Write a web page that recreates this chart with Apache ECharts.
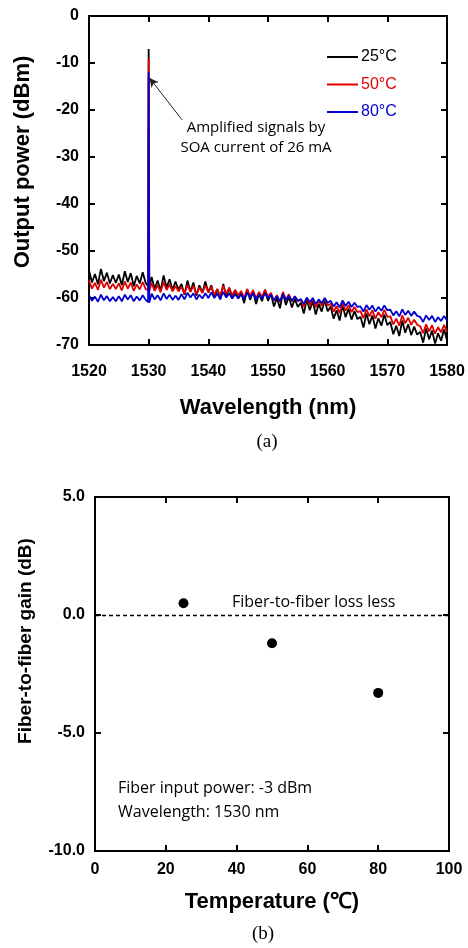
<!DOCTYPE html>
<html>
<head>
<meta charset="utf-8">
<script src="https://cdn.jsdelivr.net/npm/echarts@6/dist/echarts.min.js"></script>
<style>html,body{margin:0;padding:0;background:#fff;}#c{width:468px;height:948px;}</style>
</head>
<body>
<div id="c"></div>
<script>
// ---- Chart (a): spectra ----
const wavelength = [
  1520, 1520.5, 1521, 1521.5, 1522, 1522.5, 1523, 1523.5, 1524, 1524.5,
  1525, 1525.5, 1526, 1526.5, 1527, 1527.5, 1528, 1528.5, 1529, 1529.5,
  1529.9, 1530, 1530.1,
  1530.5, 1531, 1531.5, 1532, 1532.5, 1533, 1533.5, 1534, 1534.5, 1535,
  1535.5, 1536, 1536.5, 1537, 1537.5, 1538, 1538.5, 1539, 1539.5, 1540,
  1540.5, 1541, 1541.5, 1542, 1542.5, 1543, 1543.5, 1544, 1544.5, 1545,
  1545.5, 1546, 1546.5, 1547, 1547.5, 1548, 1548.5, 1549, 1549.5, 1550,
  1550.5, 1551, 1551.5, 1552, 1552.5, 1553, 1553.5, 1554, 1554.5, 1555,
  1555.5, 1556, 1556.5, 1557, 1557.5, 1558, 1558.5, 1559, 1559.5, 1560,
  1560.5, 1561, 1561.5, 1562, 1562.5, 1563, 1563.5, 1564, 1564.5, 1565,
  1565.5, 1566, 1566.5, 1567, 1567.5, 1568, 1568.5, 1569, 1569.5, 1570,
  1570.5, 1571, 1571.5, 1572, 1572.5, 1573, 1573.5, 1574, 1574.5, 1575,
  1575.5, 1576, 1576.5, 1577, 1577.5, 1578, 1578.5, 1579, 1579.5, 1580
];
const power25 = [
  -54.1, -56.7, -54.9, -57.1, -53.8, -56.4, -54.6, -56.9, -55.1, -56.8,
  -55.0, -57.3, -54.3, -56.6, -54.7, -57.5, -55.3, -56.9, -54.5, -56.8,
  -57.5, -7.0, -57.8,
  -55.5, -58.1, -56.3, -58.5, -55.2, -57.8, -56.0, -58.3, -56.5, -58.2,
  -57.0, -59.3, -56.3, -58.6, -56.7, -59.5, -57.3, -58.9, -56.5, -58.8,
  -57.3, -59.9, -58.1, -60.3, -57.0, -59.6, -57.8, -60.1, -58.3, -60.0,
  -58.8, -61.1, -58.1, -60.4, -58.5, -61.3, -59.1, -60.7, -58.3, -60.6,
  -59.2, -61.8, -60.0, -62.2, -58.9, -61.5, -59.7, -62.0, -60.2, -61.9,
  -61.0, -63.3, -60.3, -62.6, -60.7, -63.5, -61.3, -62.9, -60.5, -62.8,
  -61.8, -64.4, -62.6, -64.8, -61.5, -64.1, -62.3, -64.6, -62.8, -64.5,
  -64.0, -66.3, -63.3, -65.6, -63.7, -66.5, -64.3, -65.9, -63.5, -65.8,
  -65.1, -67.7, -65.9, -68.1, -64.8, -67.4, -65.6, -67.9, -66.1, -67.8,
  -67.2, -69.5, -66.5, -68.8, -66.9, -69.7, -67.5, -69.1, -66.7, -69.0
];
const power50 = [
  -56.3, -58.0, -56.8, -58.3, -56.1, -57.8, -56.6, -58.1, -57.0, -58.1,
  -56.9, -58.4, -56.5, -58.0, -56.7, -58.5, -57.1, -58.2, -56.6, -58.1,
  -58.3, -9.0, -58.5,
  -56.8, -58.5, -57.3, -58.8, -56.6, -58.3, -57.1, -58.6, -57.5, -58.6,
  -57.6, -59.1, -57.2, -58.7, -57.4, -59.2, -57.8, -58.9, -57.3, -58.8,
  -57.6, -59.3, -58.1, -59.6, -57.4, -59.1, -57.9, -59.4, -58.3, -59.4,
  -58.5, -60.0, -58.1, -59.6, -58.3, -60.1, -58.7, -59.8, -58.2, -59.7,
  -58.9, -60.6, -59.4, -60.9, -58.7, -60.4, -59.2, -60.7, -59.6, -60.7,
  -60.4, -61.9, -60.0, -61.5, -60.2, -62.0, -60.6, -61.7, -60.1, -61.6,
  -61.2, -62.9, -61.7, -63.2, -61.0, -62.7, -61.5, -63.0, -61.9, -63.0,
  -62.8, -64.3, -62.4, -63.9, -62.6, -64.4, -63.0, -64.1, -62.5, -64.0,
  -63.9, -65.6, -64.4, -65.9, -63.7, -65.4, -64.2, -65.7, -64.6, -65.7,
  -66.0, -67.5, -65.6, -67.1, -65.8, -67.6, -66.2, -67.3, -65.7, -67.2
];
const power80 = [
  -59.4, -60.6, -59.7, -60.8, -59.3, -60.5, -59.6, -60.7, -59.8, -60.7,
  -59.6, -60.7, -59.3, -60.3, -59.4, -60.7, -59.7, -60.5, -59.4, -60.4,
  -60.9, -12.0, -61.0,
  -59.1, -60.3, -59.4, -60.5, -59.0, -60.2, -59.3, -60.4, -59.5, -60.4,
  -59.2, -60.3, -58.9, -59.9, -59.0, -60.3, -59.3, -60.1, -59.0, -60.0,
  -58.8, -60.0, -59.1, -60.2, -58.7, -59.9, -59.0, -60.1, -59.2, -60.1,
  -59.2, -60.3, -58.9, -59.9, -59.0, -60.3, -59.3, -60.1, -59.0, -60.0,
  -59.3, -60.5, -59.6, -60.7, -59.2, -60.4, -59.5, -60.6, -59.7, -60.6,
  -60.2, -61.3, -59.9, -60.9, -60.0, -61.3, -60.3, -61.1, -60.0, -61.0,
  -60.6, -61.8, -60.9, -62.0, -60.5, -61.7, -60.8, -61.9, -61.0, -61.9,
  -61.8, -62.9, -61.5, -62.5, -61.6, -62.9, -61.9, -62.7, -61.6, -62.6,
  -62.5, -63.7, -62.8, -63.9, -62.4, -63.6, -62.7, -63.8, -62.9, -63.8,
  -64.0, -65.1, -63.7, -64.7, -63.8, -65.1, -64.1, -64.9, -63.8, -64.8
];
const seriesNamesA = ['25°C', '50°C', '80°C'];
const arrowFrom = [1535.6, -22.1];
const arrowTo = [1530.15, -13.2];

// ---- Chart (b): gain vs temperature ----
const temperature = [25, 50, 80];
const gain = [0.5, -1.2, -3.3];

const zip = (xs, ys) => xs.map((x, i) => [x, ys[i]]);
const BOLD = { fontFamily: 'Liberation Sans, Arial, sans-serif', fontWeight: 'bold', color: '#000' };
const axisLine = { show: true, onZero: false, lineStyle: { color: '#000', width: 2 } };
const tickIn = { show: true, inside: true, length: 6, lineStyle: { color: '#000', width: 2 } };
const colors = ['#000000', '#e00000', '#0000d0'];
const plain = v => String(v);

const chart = echarts.init(document.getElementById('c'), null, { renderer: 'canvas' });
chart.setOption({
  animation: false,
  backgroundColor: '#fff',
  grid: [
    { left: 89, top: 16, width: 358, height: 329 },
    { left: 95, top: 497, width: 354, height: 354 }
  ],
  legend: {
    orient: 'vertical', left: 322, top: 44, itemWidth: 31, itemHeight: 14, itemGap: 11.5,
    icon: 'path://M0,6h31v2h-31z',
    textStyle: { fontFamily: 'Liberation Sans, Arial, sans-serif', fontSize: 16, lineHeight: 16, padding: [0,0,0,-2] },
    data: seriesNamesA.map((n, i) => ({ name: n, itemStyle: { color: colors[i] }, textStyle: { color: colors[i] } }))
  },
  xAxis: [
    { gridIndex: 0, type: 'value', min: 1520, max: 1580, interval: 10,
      axisLine, axisTick: tickIn, splitLine: { show: false },
      axisLabel: Object.assign({ fontSize: 16, margin: 19, formatter: plain }, BOLD),
      name: 'Wavelength (nm)', nameLocation: 'middle', nameGap: 52,
      nameTextStyle: Object.assign({ fontSize: 22 }, BOLD) },
    { gridIndex: 0, type: 'value', position: 'top', min: 1520, max: 1580, interval: 10,
      axisLine, axisTick: tickIn, axisLabel: { show: false }, splitLine: { show: false } },
    { gridIndex: 1, type: 'value', min: 0, max: 100, interval: 20,
      axisLine, axisTick: tickIn, splitLine: { show: false },
      axisLabel: Object.assign({ fontSize: 16, margin: 11, formatter: plain }, BOLD),
      name: 'Temperature (℃)', nameLocation: 'middle', nameGap: 40,
      nameTextStyle: Object.assign({ fontSize: 22 }, BOLD) },
    { gridIndex: 1, type: 'value', position: 'top', min: 0, max: 100, interval: 20,
      axisLine, axisTick: tickIn, axisLabel: { show: false }, splitLine: { show: false } }
  ],
  yAxis: [
    { gridIndex: 0, type: 'value', min: -70, max: 0, interval: 10,
      axisLine, axisTick: tickIn, splitLine: { show: false },
      axisLabel: Object.assign({ fontSize: 16, margin: 10, formatter: plain }, BOLD),
      name: 'Output power (dBm)', nameLocation: 'middle', nameGap: 55,
      nameTextStyle: Object.assign({ fontSize: 22, padding: [0, 0, 0, 37] }, BOLD) },
    { gridIndex: 0, type: 'value', position: 'right', min: -70, max: 0, interval: 10,
      axisLine, axisTick: tickIn, axisLabel: { show: false }, splitLine: { show: false } },
    { gridIndex: 1, type: 'value', min: -10, max: 5, interval: 5,
      axisLine, axisTick: tickIn, splitLine: { show: false },
      axisLabel: Object.assign({ fontSize: 16, margin: 10, formatter: v => v.toFixed(1) }, BOLD),
      name: 'Fiber-to-fiber gain (dB)', nameLocation: 'middle', nameGap: 60,
      nameTextStyle: Object.assign({ fontSize: 19, padding: [0, 0, 0, 66] }, BOLD) },
    { gridIndex: 1, type: 'value', position: 'right', min: -10, max: 5, interval: 5,
      axisLine, axisTick: tickIn, axisLabel: { show: false }, splitLine: { show: false } }
  ],
  series: [
    { name: seriesNamesA[0], type: 'line', xAxisIndex: 0, yAxisIndex: 0, data: zip(wavelength, power25),
      symbol: 'none', lineStyle: { color: colors[0], width: 1.8 }, itemStyle: { color: colors[0] } },
    { name: seriesNamesA[1], type: 'line', xAxisIndex: 0, yAxisIndex: 0, data: zip(wavelength, power50),
      symbol: 'none', lineStyle: { color: colors[1], width: 1.8 }, itemStyle: { color: colors[1] } },
    { name: seriesNamesA[2], type: 'line', xAxisIndex: 0, yAxisIndex: 0, data: zip(wavelength, power80),
      symbol: 'none', lineStyle: { color: colors[2], width: 1.8 }, itemStyle: { color: colors[2] },
      markLine: { silent: true, symbol: ['none', 'arrow'], symbolSize: [7, 9], label: { show: false },
        lineStyle: { color: '#222', width: 1, type: 'solid' },
        data: [[{ coord: arrowFrom }, { coord: arrowTo }]] } },
    { name: 'gain', type: 'scatter', xAxisIndex: 2, yAxisIndex: 2, data: zip(temperature, gain),
      symbolSize: 10, itemStyle: { color: '#000', opacity: 1 },
      markLine: { silent: true, symbol: ['none', 'none'], label: { show: false },
        lineStyle: { color: '#000', width: 1.3, type: [4, 3] },
        data: [{ yAxis: 0 }] } }
  ],
  graphic: [
    { type: 'text', x: 256, y: 128, style: { text: 'Amplified signals by', textAlign: 'center', textVerticalAlign: 'middle', font: '15px "Open Sans", sans-serif', fill: '#000' } },
    { type: 'text', x: 256, y: 148, style: { text: 'SOA current of 26 mA', textAlign: 'center', textVerticalAlign: 'middle', font: '15px "Open Sans", sans-serif', fill: '#000' } },
    { type: 'text', x: 267, y: 442, style: { text: '(a)', textAlign: 'center', textVerticalAlign: 'middle', font: '19px "Liberation Serif", serif', fill: '#000' } },
    { type: 'text', x: 232, y: 602, style: { text: 'Fiber-to-fiber loss less', textAlign: 'left', textVerticalAlign: 'middle', font: '16px "Open Sans", sans-serif', fill: '#000' } },
    { type: 'text', x: 118, y: 788, style: { text: 'Fiber input power: -3 dBm', textAlign: 'left', textVerticalAlign: 'middle', font: '16px "Open Sans", sans-serif', fill: '#000' } },
    { type: 'text', x: 118, y: 812, style: { text: 'Wavelength: 1530 nm', textAlign: 'left', textVerticalAlign: 'middle', font: '16px "Open Sans", sans-serif', fill: '#000' } },
    { type: 'text', x: 263, y: 934, style: { text: '(b)', textAlign: 'center', textVerticalAlign: 'middle', font: '19px "Liberation Serif", serif', fill: '#000' } }
  ]
});
</script>
</body>
</html>
